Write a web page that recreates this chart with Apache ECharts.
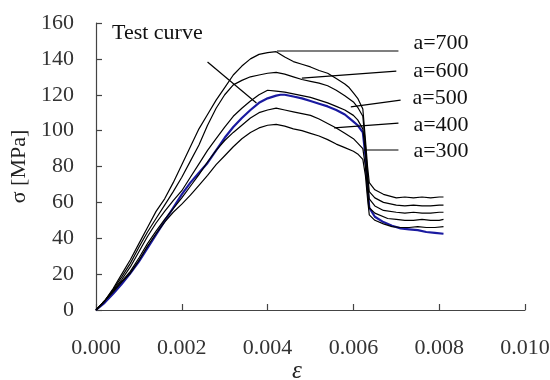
<!DOCTYPE html>
<html>
<head>
<meta charset="utf-8">
<script src="https://cdn.jsdelivr.net/npm/echarts@6/dist/echarts.min.js"></script>
<style>html,body{margin:0;padding:0;background:#fff}#c{width:550px;height:380px}</style>
</head>
<body>
<div id="c"></div>
<script>
// ---- data (strain, stress [MPa]) ----
const xTicks = [0, 0.002, 0.004, 0.006, 0.008, 0.010];
const yTicks = [0, 20, 40, 60, 80, 100, 120, 140, 160];

const curveA700 = [[0,0],[0.0002,5],[0.0004,12],[0.0006,20],[0.0008,28],[0.0010,37],[0.0012,46],[0.0014,55],[0.0016,62],[0.0018,71],[0.0020,81],[0.0022,91],[0.0024,101],[0.0026,109],[0.0028,117],[0.0030,124],[0.0032,131],[0.0034,136],[0.0036,140],[0.0038,142.5],[0.0040,143.5],[0.0042,144],[0.0044,141],[0.0046,138.5],[0.0048,137],[0.0050,135.5],[0.0052,133.5],[0.0054,132],[0.0056,129],[0.0058,126],[0.0059,124],[0.0060,121],[0.0061,118],[0.00622,112],[0.00628,95],[0.00633,80],[0.00637,71],[0.0065,67],[0.0067,64.5],[0.0070,62.5],[0.0072,63],[0.0074,62.5],[0.0076,63],[0.0078,62.5],[0.0080,63],[0.0081,63]];
const curveA600 = [[0,0],[0.0002,5],[0.0004,11.5],[0.0006,18.5],[0.0008,26],[0.0010,35],[0.0012,43.5],[0.0014,51],[0.0016,58.5],[0.0018,66],[0.0020,74],[0.0022,83],[0.0024,92],[0.0026,103],[0.0028,112.5],[0.0030,120],[0.0032,125.5],[0.0034,128],[0.0036,130],[0.0038,131],[0.0040,132],[0.0042,132.5],[0.0044,131.5],[0.0046,130],[0.0048,128.5],[0.0050,127.5],[0.0052,126.5],[0.0054,125],[0.0056,122.5],[0.0058,119.5],[0.0060,116],[0.0061,113],[0.00622,108],[0.00628,92],[0.00633,76],[0.00637,66],[0.0065,62.5],[0.0067,60],[0.0070,58.5],[0.0072,58],[0.0074,58.5],[0.0076,58],[0.0078,58],[0.0080,58.5],[0.0081,58.5]];
const curveA500 = [[0,0],[0.0002,5],[0.0004,11],[0.0006,17],[0.0008,24],[0.0010,32.5],[0.0012,41],[0.0014,48.5],[0.0016,55],[0.0018,61],[0.0020,66.5],[0.0022,74],[0.0024,81.5],[0.0026,89],[0.0028,95.5],[0.0030,102],[0.0032,108],[0.0034,112.5],[0.0036,116.5],[0.0038,120],[0.0040,122.5],[0.0042,122],[0.0044,121.5],[0.0046,120.5],[0.0048,119.5],[0.0050,118.5],[0.0052,117],[0.0054,115.5],[0.0056,113.5],[0.0058,111.5],[0.0060,108.5],[0.0061,106],[0.00622,101],[0.00628,88],[0.00633,72],[0.00637,62],[0.0065,58],[0.0067,55.5],[0.0070,54.5],[0.0072,54],[0.0074,54.5],[0.0076,54],[0.0078,54],[0.0080,54.5],[0.0081,54.5]];
const curveA400 = [[0,0],[0.0002,5],[0.0004,10.5],[0.0006,16],[0.0008,21.5],[0.0010,29],[0.0012,37],[0.0014,44],[0.0016,50.5],[0.0018,56.5],[0.0020,62.5],[0.0022,69],[0.0024,75.5],[0.0026,82.5],[0.0028,89],[0.0030,94.5],[0.0032,99],[0.0034,103],[0.0036,107],[0.0038,110],[0.0040,111.5],[0.0042,112.5],[0.0044,111.5],[0.0046,110.5],[0.0048,109.5],[0.0050,108.5],[0.0052,106.5],[0.0054,104],[0.0056,101.5],[0.0058,98.5],[0.0060,95.5],[0.0061,93],[0.00622,90],[0.00628,80],[0.00633,66],[0.00637,57],[0.0065,54],[0.0068,51],[0.0070,50.5],[0.0072,50],[0.0074,50],[0.0076,50.5],[0.0078,50],[0.0080,50],[0.0081,50.5]];
const curveA300 = [[0,0],[0.0002,5],[0.0004,10],[0.0006,15.5],[0.0008,20.5],[0.0010,27.5],[0.0012,35.5],[0.0014,42.5],[0.0016,49],[0.0018,54.5],[0.0020,59],[0.0022,64],[0.0024,69.5],[0.0026,75],[0.0028,81],[0.0030,86],[0.0032,91],[0.0034,95.5],[0.0036,99],[0.0038,101.5],[0.0040,103],[0.0042,103.5],[0.0044,102.5],[0.0046,101],[0.0048,100],[0.0050,98.5],[0.0052,97],[0.0054,95],[0.0056,92.5],[0.0058,90.5],[0.0060,88.5],[0.0061,87],[0.00622,84],[0.00628,75],[0.00633,62],[0.00637,53],[0.0065,50],[0.0067,48],[0.0069,46.5],[0.0071,46],[0.0073,46],[0.0075,46.5],[0.0077,46],[0.0079,46],[0.0081,46.5]];
const curveTest = [[0,0],[0.0002,4],[0.0004,9],[0.0006,14.5],[0.0008,20.5],[0.0010,27],[0.0012,34.5],[0.0014,42],[0.0016,49.5],[0.0018,57],[0.0020,64.5],[0.0022,71],[0.0024,76.5],[0.0026,82],[0.0028,89],[0.0030,96],[0.0032,102],[0.0034,107],[0.0036,111.5],[0.0038,115.5],[0.0040,118],[0.0042,119.5],[0.0043,120],[0.0044,120],[0.0046,119],[0.0048,118],[0.0050,116.5],[0.0052,115],[0.0054,113.5],[0.0056,111.5],[0.0058,109],[0.0060,105],[0.0061,103],[0.00622,99],[0.00628,86],[0.00633,68],[0.00637,57],[0.0065,52],[0.0067,49],[0.0069,47],[0.0071,45.5],[0.0073,45],[0.0075,44.5],[0.0077,43.5],[0.0079,43],[0.0081,42.5]];

// leader lines: [start, end] in data units, with labels
const leaderNames = ['a=700', 'a=600', 'a=500', 'a=400', 'a=300'];
const leaderLines = [
  [[0.00422,144.4],[0.00705,144.4]],
  [[0.0048,129.3],[0.0070,133.2]],
  [[0.00594,113.2],[0.0071,117]],
  [[0.00555,101.5],[0.00705,104.2]],
  [[0.00624,89.2],[0.00705,89.2]]
];
const testPointer = [[0.0026,138.3],[0.00374,115.4]];
const testLabel = 'Test curve';

const SERIF = '"Liberation Serif", "Times New Roman", serif';
const chart = echarts.init(document.getElementById('c'), null, {renderer: 'canvas'});

const black = '#000';
const curves = [curveA700, curveA600, curveA500, curveA400, curveA300];
const series = [];
curves.forEach((c, i) => {
  series.push({type: 'line', name: leaderNames[i], data: c, showSymbol: false, symbol: 'none',
    lineStyle: {color: black, width: 1.2}, z: 3});
});
series.push({type: 'line', name: testLabel, data: curveTest, showSymbol: false, symbol: 'none',
  lineStyle: {color: '#1a1aa0', width: 2.2}, z: 2});
const labelStyle = [
  {distance: 15, offset: [0,-8]},
  {distance: 17, offset: [0,0]},
  {distance: 12, offset: [0,-2]},
  {distance: 15, offset: [0,2]},
  {distance: 15, offset: [0,1]}
];
leaderLines.forEach((l, i) => {
  series.push({type: 'line', data: l, showSymbol: false, symbol: 'none',
    lineStyle: {color: black, width: 1.2}, z: 4,
    endLabel: {show: true, formatter: leaderNames[i], distance: labelStyle[i].distance, offset: labelStyle[i].offset,
      color: '#111', fontFamily: SERIF, fontSize: 22}});
});
series.push({type: 'line', data: testPointer, showSymbol: false, symbol: 'none',
  lineStyle: {color: black, width: 1.2}, z: 4});

chart.setOption({
  animation: false,
  backgroundColor: '#fff',
  grid: {left: 96, right: 25, top: 23, bottom: 70, containLabel: false, outerBoundsMode: 'none'},
  xAxis: {
    type: 'value', min: xTicks[0], max: xTicks[xTicks.length-1], interval: 0.002,
    name: 'ε', nameLocation: 'middle', nameGap: 49, nameMoveOverlap: false,
    nameTextStyle: {fontFamily: SERIF, fontStyle: 'italic', fontSize: 25, color: '#222', padding: [0, 27, 0, 0]},
    axisLine: {show: true, lineStyle: {color: '#444', width: 1.2}},
    axisTick: {show: true, inside: true, length: 6, lineStyle: {color: '#444', width: 1.2}},
    axisLabel: {margin: 27, fontFamily: SERIF, fontSize: 22, color: '#333', formatter: v => v.toFixed(3)},
    splitLine: {show: false}
  },
  yAxis: {
    type: 'value', min: yTicks[0], max: yTicks[yTicks.length-1], interval: 20,
    name: 'σ [MPa]', nameLocation: 'middle', nameGap: 66, nameRotate: 90, nameMoveOverlap: false,
    nameTextStyle: {fontFamily: SERIF, fontSize: 22, color: '#222'},
    axisLine: {show: true, lineStyle: {color: '#444', width: 1.2}},
    axisTick: {show: true, inside: true, length: 6, lineStyle: {color: '#444', width: 1.2}},
    axisLabel: {margin: 22, fontFamily: SERIF, fontSize: 22, color: '#333'},
    splitLine: {show: false}
  },
  graphic: [{type: 'text', left: 112, top: 22, style: {text: testLabel, font: '22px ' + SERIF, fill: '#111'}}],
  series: series
});
</script>
</body>
</html>
